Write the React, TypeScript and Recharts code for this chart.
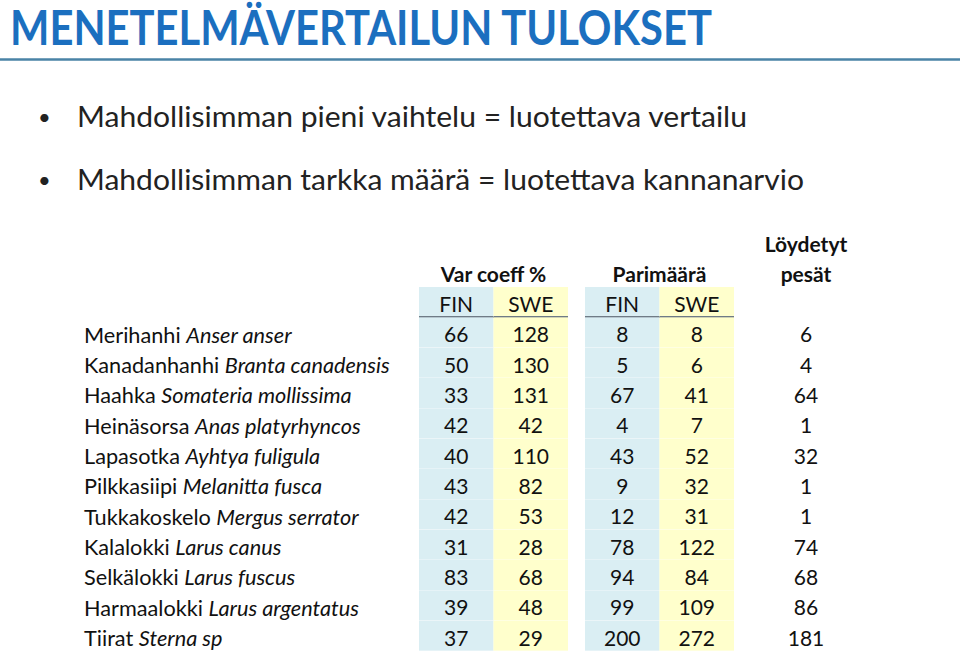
import React from 'react';
import { BarChart, Bar, XAxis, YAxis } from 'recharts';

const SPECIES = [
  'Merihanhi', 'Kanadanhanhi', 'Haahka', 'Heinäsorsa', 'Lapasotka', 'Pilkkasiipi',
  'Tukkakoskelo', 'Kalalokki', 'Selkälokki', 'Harmaalokki', 'Tiirat',
];
const LATIN = [
  'Anser anser', 'Branta canadensis', 'Somateria mollissima', 'Anas platyrhyncos',
  'Ayhtya fuligula', 'Melanitta fusca', 'Mergus serrator', 'Larus canus',
  'Larus fuscus', 'Larus argentatus', 'Sterna sp',
];
const VAR_FIN = [66, 50, 33, 42, 40, 43, 42, 31, 83, 39, 37];
const VAR_SWE = [128, 130, 131, 42, 110, 82, 53, 28, 68, 48, 29];
const PAIRS_FIN = [8, 5, 67, 4, 43, 9, 12, 78, 94, 99, 200];
const PAIRS_SWE = [8, 6, 41, 7, 52, 32, 31, 122, 84, 109, 272];
const NESTS = [6, 4, 64, 1, 32, 1, 1, 74, 68, 86, 181];

const SUB_HEADERS = ['FIN', 'SWE', 'FIN', 'SWE'];
const GROUP_HEADERS = [['Var coeff %'], ['Parimäärä'], ['Löydetyt', 'pesät']];

const TITLE = 'MENETELMÄVERTAILUN TULOKSET';
const BULLETS = [
  'Mahdollisimman pieni vaihtelu = luotettava vertailu',
  'Mahdollisimman tarkka määrä = luotettava kannanarvio',
];

// column widths in axis units (one cell = 1)
const SPANS = { fin1: 1, swe1: 1, gap1: 0.228, fin2: 1, swe2: 1, gap2: 0.467, nest: 1 };
const GROUP_TICKS = [1, 3.228, 5.195];

const BLUE = '#daeef3';
const YELLOW = '#ffffcc';
const FONT = 'Lato, "Open Sans", sans-serif';
const TEXT = '#111';

const tableRows = [
  {
    row: 'header', ...SPANS,
    t_fin1: SUB_HEADERS[0], t_swe1: SUB_HEADERS[1], t_fin2: SUB_HEADERS[2], t_swe2: SUB_HEADERS[3], t_nest: '',
  },
  ...SPECIES.map((s, i) => ({
    row: s, ...SPANS,
    t_fin1: VAR_FIN[i], t_swe1: VAR_SWE[i], t_fin2: PAIRS_FIN[i], t_swe2: PAIRS_SWE[i], t_nest: NESTS[i],
  })),
];

const makeCell = (fill: string, textKey?: string) => (props: any) => {
  const { x, y, width, height, payload } = props;
  const isHeader = payload.row === 'header';
  return (
    <g>
      <rect x={x} y={y} width={width} height={height} fill={fill} />
      {isHeader && fill !== 'none' && (
        <line x1={x} x2={x + width} y1={y + height} y2={y + height} stroke="#6f7b86" strokeWidth={2} />
      )}
      {textKey && (
        <text x={x + width / 2} y={y + height / 2 + 10} textAnchor="middle"
          fontFamily={FONT} fontSize={21} fill={TEXT}>
          {payload[textKey]}
        </text>
      )}
    </g>
  );
};

const SpeciesTick = (props: any) => {
  const { y, payload } = props;
  const i = SPECIES.indexOf(payload.value);
  if (i < 0) return null;
  return (
    <text x={84} y={y + 10} textAnchor="start" fontFamily={FONT} fontSize={21.7} fill={TEXT}>
      {SPECIES[i]} <tspan fontStyle="italic">{LATIN[i]}</tspan>
    </text>
  );
};

const GroupTick = (props: any) => {
  const { x, y, payload } = props;
  const idx = GROUP_TICKS.indexOf(payload.value);
  const lines = GROUP_HEADERS[idx] || [];
  return (
    <g>
      {lines.map((l, k) => (
        <text key={k} x={x} y={y - 5 - (lines.length - 1 - k) * 30} textAnchor="middle"
          fontFamily={FONT} fontWeight="bold" fontSize={21} fill={TEXT}>
          {l}
        </text>
      ))}
    </g>
  );
};

const App: React.FC = () => {
  return (
    <div style={{ position: 'absolute', left: 0, top: 0, width: 960, height: 656, background: '#fff' }}>
      <svg width={960} height={656} style={{ position: 'absolute', left: 0, top: 0 }}>
        <text x={10} y={45} fontFamily={FONT} fontWeight="bold" fontSize={47} fill="#1b6fbf"
          textLength={702} lengthAdjust="spacingAndGlyphs">
          {TITLE}
        </text>
        <line x1={0} x2={960} y1={59.5} y2={59.5} stroke="#4a83a6" strokeWidth={2.5} />
        {BULLETS.map((b, i) => (
          <g key={i}>
            <text x={38} y={[125, 188][i]} fontFamily={FONT} fontSize={22} fill="#222">•</text>
            <text x={77} y={[127, 190][i]} fontFamily={FONT} fontSize={28} fill="#222"
              textLength={[670, 727][i]} lengthAdjust="spacingAndGlyphs">
              {b}
            </text>
          </g>
        ))}
      </svg>
      <div style={{ position: 'absolute', left: 0, top: 0 }}>
        <BarChart
          width={960}
          height={656}
          data={tableRows}
          layout="vertical"
          barCategoryGap={0}
          barGap={0}
          margin={{ top: 220, right: 94, bottom: 5, left: 84 }}
        >
          <XAxis type="number" orientation="top" domain={[0, 6]} ticks={GROUP_TICKS} interval={0}
            height={67} axisLine={false} tickLine={false} tickSize={0} tickMargin={0}
            tick={<GroupTick />} allowDataOverflow />
          <YAxis type="category" dataKey="row" width={335} axisLine={false} tickLine={false}
            interval={0} tick={<SpeciesTick />} />
          <Bar dataKey="fin1" stackId="t" isAnimationActive={false} shape={makeCell(BLUE, 't_fin1')} />
          <Bar dataKey="swe1" stackId="t" isAnimationActive={false} shape={makeCell(YELLOW, 't_swe1')} />
          <Bar dataKey="gap1" stackId="t" isAnimationActive={false} shape={makeCell('none')} />
          <Bar dataKey="fin2" stackId="t" isAnimationActive={false} shape={makeCell(BLUE, 't_fin2')} />
          <Bar dataKey="swe2" stackId="t" isAnimationActive={false} shape={makeCell(YELLOW, 't_swe2')} />
          <Bar dataKey="gap2" stackId="t" isAnimationActive={false} shape={makeCell('none')} />
          <Bar dataKey="nest" stackId="t" isAnimationActive={false} shape={makeCell('none', 't_nest')} />
        </BarChart>
      </div>
    </div>
  );
};

export default App;
